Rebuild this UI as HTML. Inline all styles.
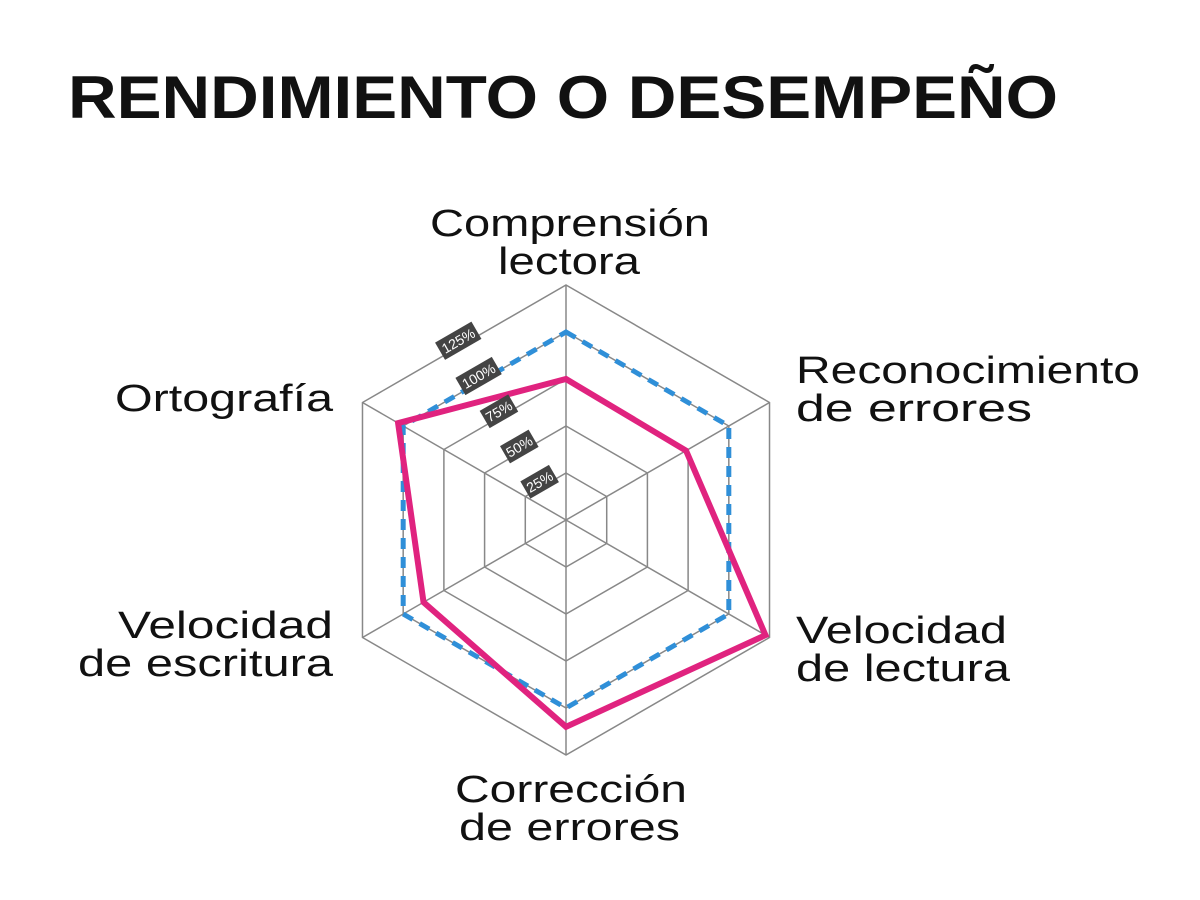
<!DOCTYPE html>
<html><head><meta charset="utf-8"><style>
html,body{margin:0;padding:0;background:#fff;}
svg{display:block}
text{font-family:"Liberation Sans",sans-serif;fill:#111}
</style></head><body>
<svg width="1200" height="900" viewBox="0 0 1200 900" xmlns="http://www.w3.org/2000/svg">
<rect width="1200" height="900" fill="#fff"/>
<text x="68" y="118" font-size="60" font-weight="bold" textLength="990" lengthAdjust="spacingAndGlyphs">RENDIMIENTO O DESEMPEÑO</text>
<g id="chart"></g>
<g font-size="38" lengthAdjust="spacingAndGlyphs">
<text x="430" y="236" textLength="280" lengthAdjust="spacingAndGlyphs">Comprensión</text>
<text x="498" y="274" textLength="142" lengthAdjust="spacingAndGlyphs">lectora</text>
<text x="796" y="383" textLength="344" lengthAdjust="spacingAndGlyphs">Reconocimiento</text>
<text x="796" y="421" textLength="236" lengthAdjust="spacingAndGlyphs">de errores</text>
<text x="796" y="643" textLength="211" lengthAdjust="spacingAndGlyphs">Velocidad</text>
<text x="796" y="681" textLength="214" lengthAdjust="spacingAndGlyphs">de lectura</text>
<text x="455" y="802" textLength="232" lengthAdjust="spacingAndGlyphs">Corrección</text>
<text x="459" y="840" textLength="221" lengthAdjust="spacingAndGlyphs">de errores</text>
<text x="115" y="411" textLength="218" lengthAdjust="spacingAndGlyphs">Ortografía</text>
<text x="118" y="638" textLength="215" lengthAdjust="spacingAndGlyphs">Velocidad</text>
<text x="78" y="676" textLength="255" lengthAdjust="spacingAndGlyphs">de escritura</text>
</g>
<script>
(function(){
var cx=566,cy=520,R=235,ns="http://www.w3.org/2000/svg",g=document.getElementById('chart');
function pt(i,r){var a=(-90+60*i)*Math.PI/180;return [cx+r*Math.cos(a),cy+r*Math.sin(a)];}
function poly(rs,attrs){var p=document.createElementNS(ns,'polygon');p.setAttribute('points',rs.map(function(r,i){return pt(i,r).join(',')}).join(' '));for(var k in attrs)p.setAttribute(k,attrs[k]);g.appendChild(p);}
for(var l=1;l<=5;l++){var r=R*l/5;poly([r,r,r,r,r,r],{fill:'none',stroke:'#888','stroke-width':1.5});}
for(var i=0;i<6;i++){var q=pt(i,R);var ln=document.createElementNS(ns,'line');ln.setAttribute('x1',cx);ln.setAttribute('y1',cy);ln.setAttribute('x2',q[0]);ln.setAttribute('y2',q[1]);ln.setAttribute('stroke','#888');ln.setAttribute('stroke-width',1.5);g.appendChild(ln);}
var b=R*0.8;
poly([b,b,b,b,b,b],{fill:'none',stroke:'#2f8fd8','stroke-width':5,'stroke-dasharray':'11,8'});
poly([R*0.6,R*0.59,R*0.98,R*0.88,R*0.70,R*0.825],{fill:'none',stroke:'#e0237f','stroke-width':6,'stroke-linejoin':'miter'});
var labs=['25%','50%','75%','100%','125%'];
for(var l=1;l<=5;l++){var r=R*l/5;var a=pt(0,r),c=pt(5,r);var mx=(a[0]+c[0])/2-6,my=(a[1]+c[1])/2-3;
var gg=document.createElementNS(ns,'g');gg.setAttribute('transform','translate('+mx+','+my+') rotate(-30)');
var w=labs[l-1].length*9+6;var rc=document.createElementNS(ns,'rect');rc.setAttribute('x',-w/2);rc.setAttribute('y',-10);rc.setAttribute('width',w);rc.setAttribute('height',20);rc.setAttribute('fill','#444');gg.appendChild(rc);
var t=document.createElementNS(ns,'text');t.setAttribute('x',0);t.setAttribute('y',5);t.setAttribute('text-anchor','middle');t.setAttribute('font-size','14');t.setAttribute('style','fill:#fff');t.textContent=labs[l-1];gg.appendChild(t);g.appendChild(gg);}
})();
</script>
</svg>
</body></html>
